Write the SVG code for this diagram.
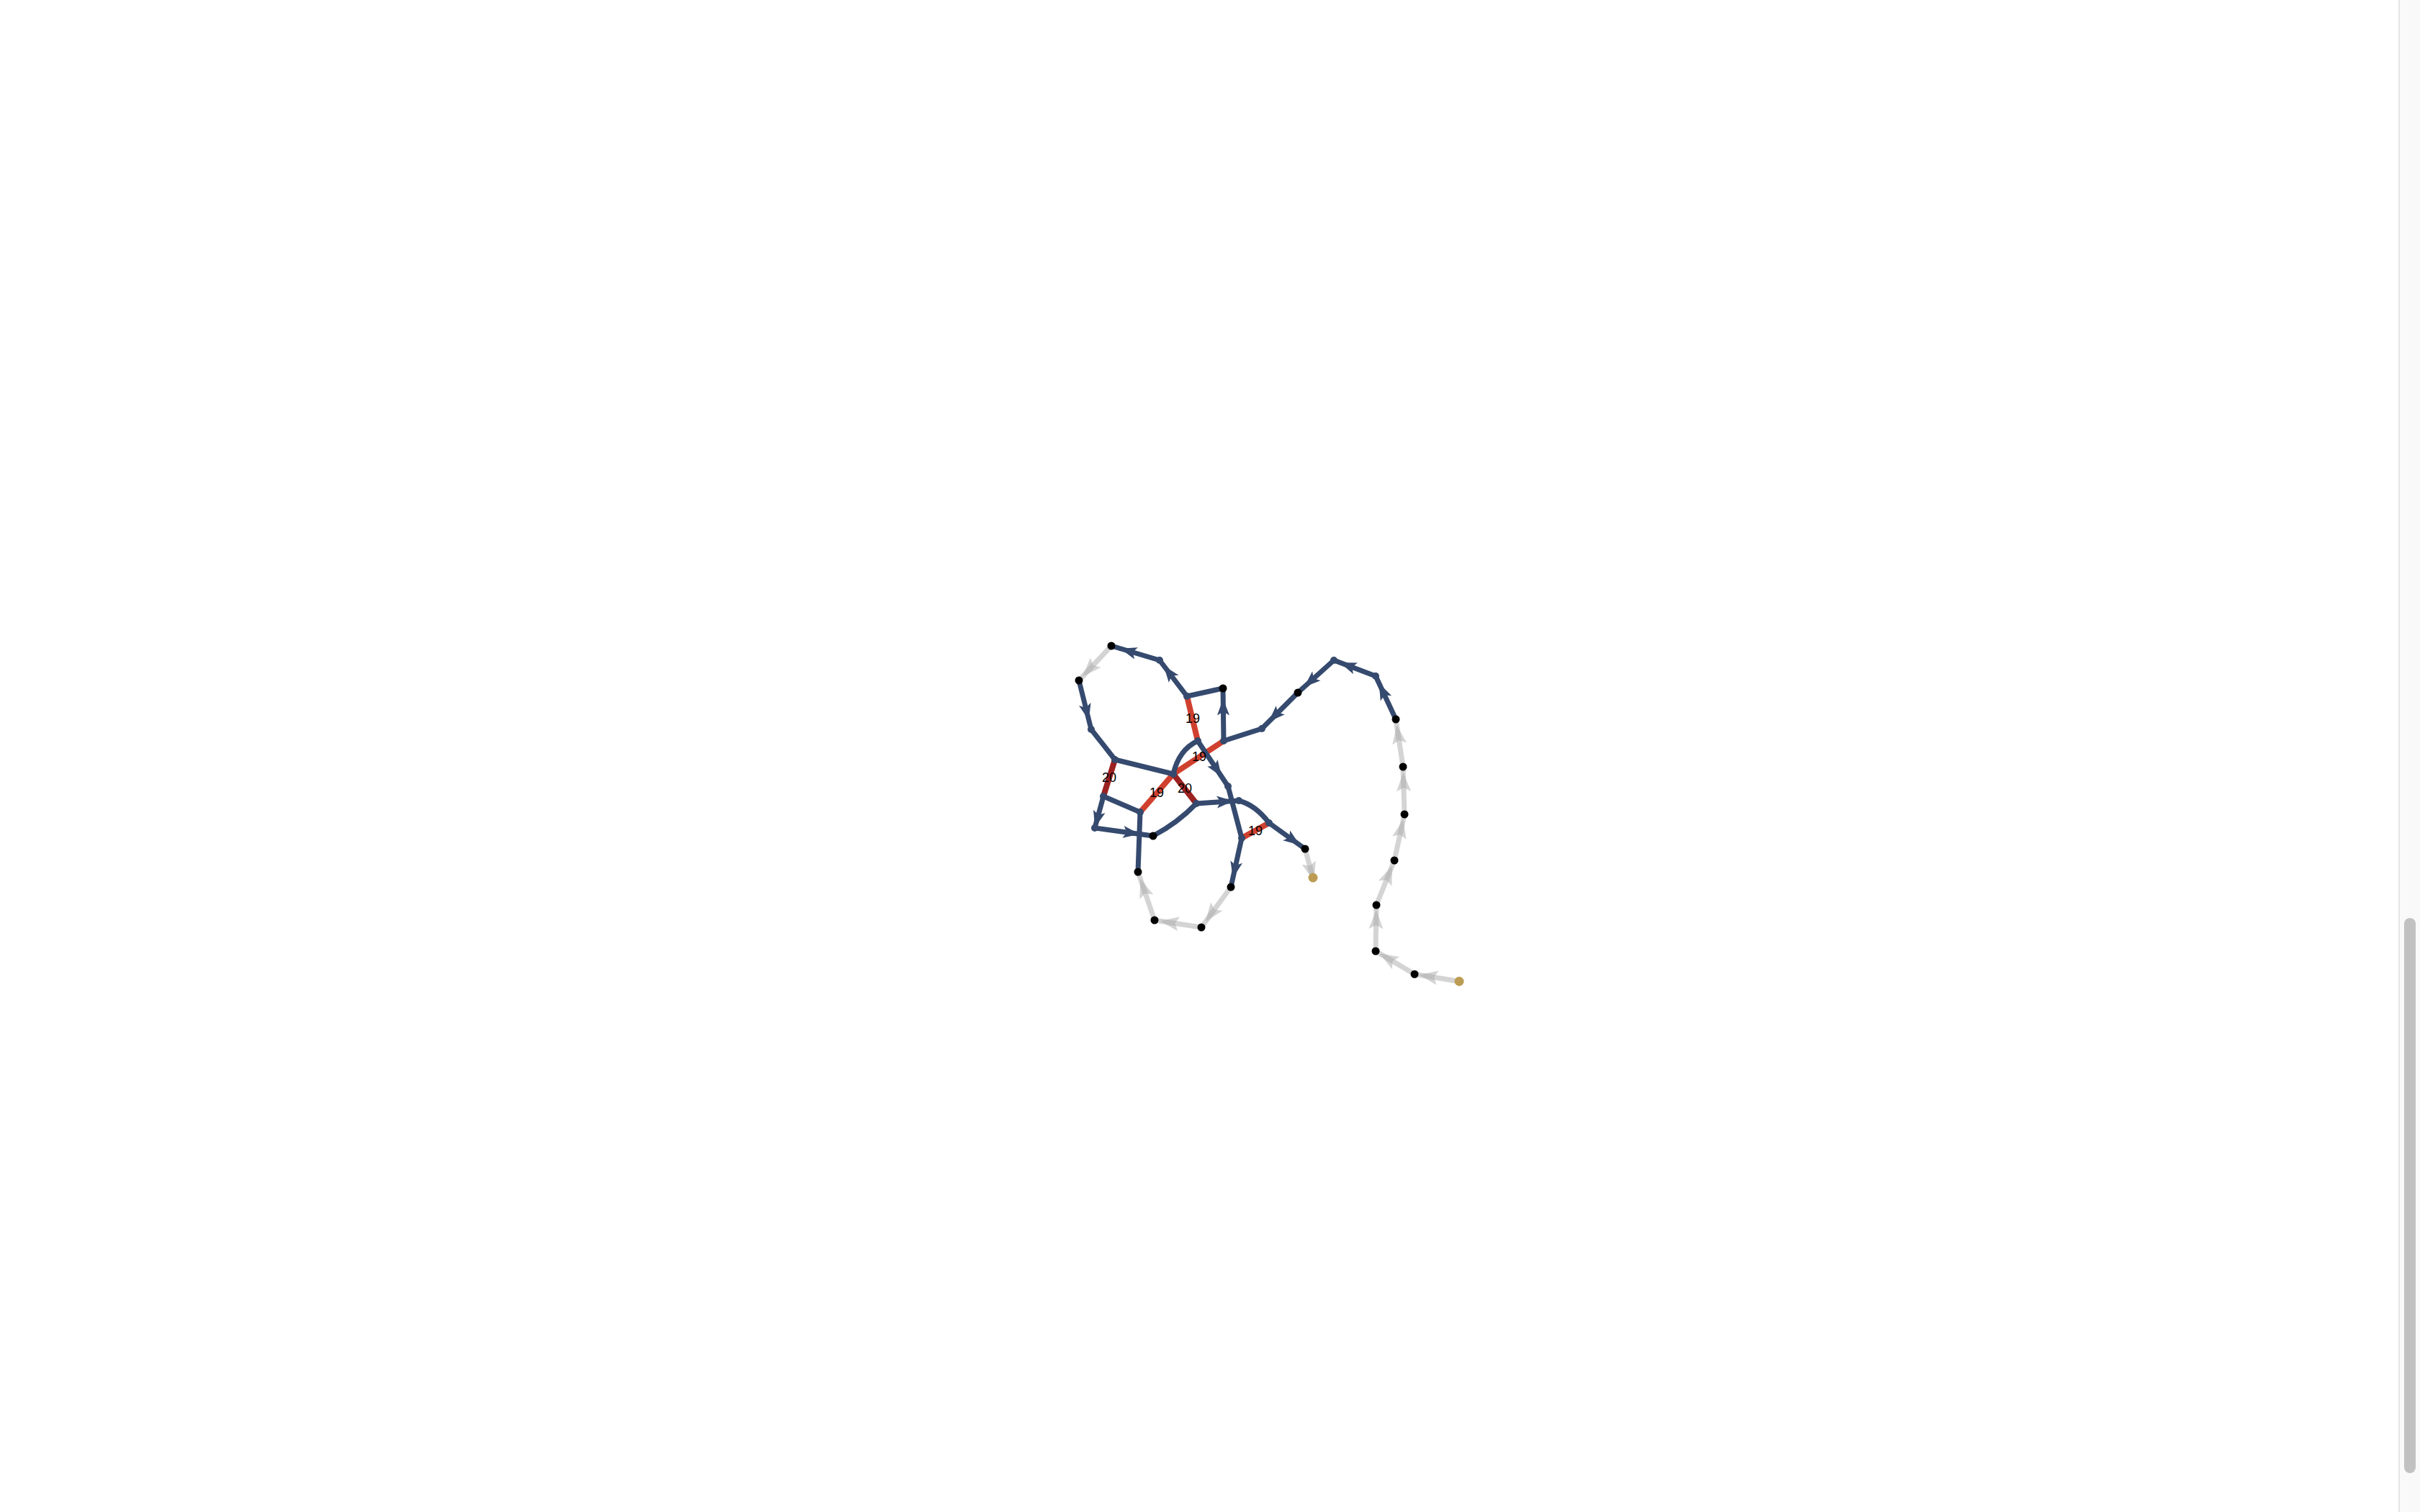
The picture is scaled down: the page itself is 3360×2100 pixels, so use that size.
<svg xmlns="http://www.w3.org/2000/svg" width="3360" height="2100" viewBox="0 0 3360 2100">
<style>
.e{fill:none;stroke:#354a6e;stroke-width:7;stroke-linecap:round;stroke-linejoin:round}
.r{fill:none;stroke:#d0402f;stroke-width:8;stroke-linecap:round}
.dr{fill:none;stroke:#9c2121;stroke-width:8;stroke-linecap:round}
.g{fill:none;stroke:#aaaaaa;stroke-opacity:0.5;stroke-width:7;stroke-linecap:round;stroke-linejoin:round}
.ea{marker-mid:url(#ab)}
.ga{marker-mid:url(#ag)}
.lbl{font-family:"Liberation Sans",Arial,sans-serif;font-size:18px;text-anchor:middle;dominant-baseline:central;fill:#000}
.nb{fill:#000}
.nj{fill:#354a6e}
.ng{fill:#bc9c52}
</style>
<defs>
<marker id="ab" markerUnits="userSpaceOnUse" markerWidth="40" markerHeight="40" viewBox="-10 -20 40 40" refX="0" refY="0" orient="auto" overflow="visible"><path d="M22,0 L-1,-8.5 L4,0 L-1,8.5 Z" fill="#354a6e"/></marker>
<marker id="ag" markerUnits="userSpaceOnUse" markerWidth="40" markerHeight="40" viewBox="-10 -20 40 40" refX="0" refY="0" orient="auto" overflow="visible"><path d="M25,0 L-1,-10 L4,0 L-1,10 Z" fill="#aaaaaa" fill-opacity="0.5"/></marker>
</defs>
<rect width="3360" height="2100" fill="#fff"/>
<g id="connectors">
<g id="gray-edges">
<path class="g ga" d="M1543,897 L1520.5,921 L1498,945"/>
<path class="g ga" d="M1812,1179 L1817.5,1199 L1823,1219"/>
<path class="g ga" d="M1709,1232 L1688.5,1260 L1668,1288"/>
<path class="g ga" d="M1668,1288 L1635.5,1283 L1603,1278"/>
<path class="g ga" d="M1603,1278 L1591.5,1244.5 L1580,1211"/>
<path class="g ga" d="M2026,1363 L1995,1358 L1964,1353"/>
<path class="g ga" d="M1964,1353 L1937,1337 L1910,1321"/>
<path class="g ga" d="M1910,1321 L1910.5,1289 L1911,1257"/>
<path class="g ga" d="M1911,1257 L1923.5,1226 L1936,1195"/>
<path class="g ga" d="M1936,1195 L1943,1163 L1950,1131"/>
<path class="g ga" d="M1950,1131 L1949,1098 L1948,1065"/>
<path class="g ga" d="M1948,1065 L1943,1032 L1938,999"/>
</g>
<g id="red-edges">
<path class="r" d="M1648,967 L1663,1029"/>
<path class="r" d="M1629,1075 L1699,1029"/>
<path class="r" d="M1629,1075 L1583,1128"/>
<path class="r" d="M1724,1164 L1762,1143"/>
<path class="dr" d="M1629,1075 L1661,1116"/>
<path class="dr" d="M1548,1055 L1532,1106"/>
</g>
<g id="blue-edges">
<path class="e ea" d="M1648,967 L1629,942 L1610,917"/>
<path class="e ea" d="M1610,917 L1576.5,907 L1543,897"/>
<path class="e ea" d="M1498,945 L1506.5,979 L1515,1013"/>
<path class="e ea" d="M1699,1029 L1698.5,992.5 L1698,956"/>
<path class="e ea" d="M1802,962 L1777,987 L1752,1012"/>
<path class="e ea" d="M1852,917 L1827,939.5 L1802,962"/>
<path class="e ea" d="M1910,939 L1881,928 L1852,917"/>
<path class="e ea" d="M1938,999 L1924,969 L1910,939"/>
<path class="e ea" d="M1663,1029 L1684,1060.5 L1705,1092"/>
<path class="e ea" d="M1724,1164 L1716.5,1198 L1709,1232"/>
<path class="e ea" d="M1532,1106 L1526,1128 L1520,1150"/>
<path class="e ea" d="M1520,1150 L1560.5,1155.5 L1601,1161"/>
<path class="e ea" d="M1661,1116 L1690.5,1114 L1720,1112"/>
<path class="e ea" d="M1762,1143 L1787,1161 L1812,1179"/>
<path class="e" d="M1515,1013 L1548,1055"/>
<path class="e" d="M1548,1055 L1629,1075"/>
<path class="e" d="M1648,967 L1698,956"/>
<path class="e" d="M1699,1029 L1752,1012"/>
<path class="e" d="M1663,1029 Q1637,1041 1629,1075"/>
<path class="e" d="M1705,1092 L1724,1164"/>
<path class="e" d="M1532,1106 L1583,1128"/>
<path class="e" d="M1583,1128 L1580,1211"/>
<path class="e" d="M1661,1116 Q1635,1143 1601,1161"/>
<path class="e" d="M1720,1112 Q1743,1118 1762,1143"/>
</g>
<g id="edge-labels">
<text class="lbl" x="1656" y="998">19</text>
<text class="lbl" x="1665" y="1051">19</text>
<text class="lbl" x="1606" y="1101">19</text>
<text class="lbl" x="1645" y="1095">20</text>
<text class="lbl" x="1540" y="1080">20</text>
<text class="lbl" x="1743" y="1154">19</text>
</g>
</g>
<g id="nodes">
<circle id="nA" class="nb" cx="1543" cy="897" r="5.5"/>
<circle id="nB" class="nb" cx="1498" cy="945" r="5.5"/>
<circle id="nC" class="nj" cx="1648" cy="967" r="5"/>
<circle id="nCb" class="nj" cx="1610" cy="917" r="5"/>
<circle id="nD" class="nj" cx="1548" cy="1055" r="5"/>
<circle id="nE" class="nj" cx="1629" cy="1075" r="5"/>
<circle id="nF" class="nj" cx="1663" cy="1029" r="5"/>
<circle id="nG" class="nb" cx="1698" cy="956" r="5.5"/>
<circle id="nH" class="nj" cx="1699" cy="1029" r="5"/>
<circle id="nX" class="nj" cx="1752" cy="1012" r="5"/>
<circle id="nY" class="nb" cx="1802" cy="962" r="5.5"/>
<circle id="nZ" class="nj" cx="1852" cy="917" r="5"/>
<circle id="nAA" class="nj" cx="1910" cy="939" r="5"/>
<circle id="nBB" class="nb" cx="1938" cy="999" r="5.5"/>
<circle id="nCC" class="nb" cx="1948" cy="1065" r="5.5"/>
<circle id="nDD" class="nb" cx="1950" cy="1131" r="5.5"/>
<circle id="nEE" class="nb" cx="1936" cy="1195" r="5.5"/>
<circle id="nFF" class="nb" cx="1911" cy="1257" r="5.5"/>
<circle id="nGG" class="nb" cx="1910" cy="1321" r="5.5"/>
<circle id="nHH" class="nb" cx="1964" cy="1353" r="5.5"/>
<circle id="nII" class="ng" cx="2026" cy="1363" r="6.5"/>
<circle id="nBx" class="nj" cx="1515" cy="1013" r="5"/>
<circle id="nI" class="nj" cx="1532" cy="1106" r="5"/>
<circle id="nJ" class="nj" cx="1583" cy="1128" r="5"/>
<circle id="nK" class="nj" cx="1520" cy="1150" r="5"/>
<circle id="nL" class="nb" cx="1601" cy="1161" r="5.5"/>
<circle id="nM" class="nb" cx="1580" cy="1211" r="5.5"/>
<circle id="nN" class="nj" cx="1661" cy="1116" r="5"/>
<circle id="nO" class="nj" cx="1720" cy="1112" r="5"/>
<circle id="nP" class="nj" cx="1705" cy="1092" r="5"/>
<circle id="nQ" class="nj" cx="1724" cy="1164" r="5"/>
<circle id="nS" class="nj" cx="1762" cy="1143" r="5"/>
<circle id="nT" class="nb" cx="1812" cy="1179" r="5.5"/>
<circle id="nU" class="ng" cx="1823" cy="1219" r="6.5"/>
<circle id="nR" class="nb" cx="1709" cy="1232" r="5.5"/>
<circle id="nV" class="nb" cx="1668" cy="1288" r="5.5"/>
<circle id="nW" class="nb" cx="1603" cy="1278" r="5.5"/>
</g>
<g id="scrollbar">
<rect x="3330" y="0" width="30" height="2100" fill="#f9f9f9"/>
<rect x="3330" y="0" width="2" height="2100" fill="#e6e6e6"/>
<rect x="3338" y="1275" width="16" height="771" rx="8" fill="#c1c1c1"/>
</g>
</svg>
